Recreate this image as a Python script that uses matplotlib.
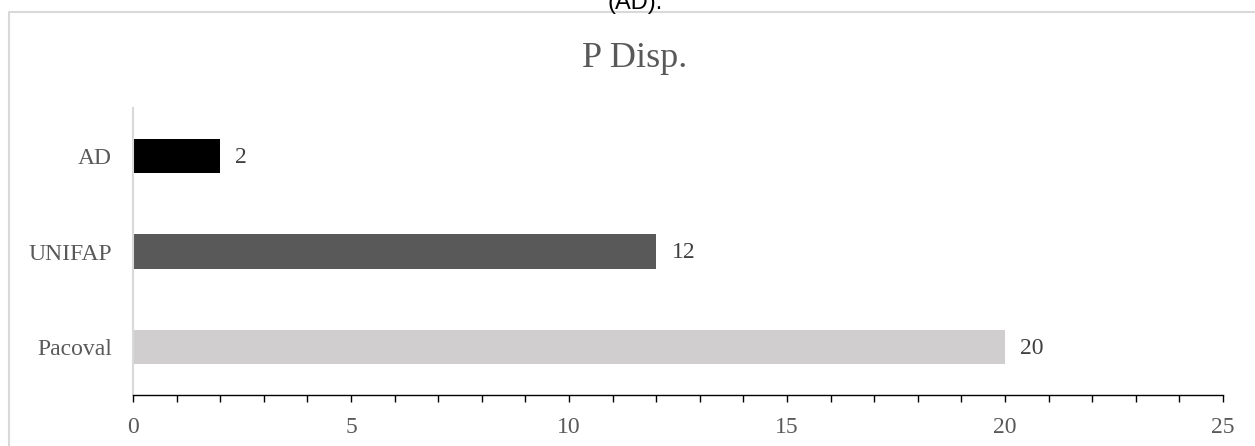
import matplotlib
matplotlib.use("Agg")
import matplotlib.pyplot as plt
from matplotlib.lines import Line2D

# dados do gráfico
locais = ["Pacoval", "UNIFAP", "AD"]
p_disp = [20, 12, 2]
cores = ["#D0CECE", "#595959", "#000000"]

plt.rcParams["font.family"] = "Liberation Serif"

fig = plt.figure(figsize=(12.55, 4.46), dpi=100)
ax = fig.add_axes([133 / 1255, 51 / 446, 1090 / 1255, 287 / 446])

barras = ax.barh(locais, p_disp, height=0.36, color=cores)

# rótulos de valor ao lado das barras
for b, v in zip(barras, p_disp):
    ax.annotate(str(v), (b.get_width(), b.get_y() + b.get_height() / 2),
                xytext=(11, -1), textcoords="offset points",
                va="center", ha="left", fontsize=17, color="#404040")

ax.set_xlim(0, 25)
ax.set_ylim(-0.5, 2.5)
ax.set_xticks(range(0, 26, 5))
ax.set_xticks(range(0, 26), minor=True)
ax.tick_params(axis="x", which="both", direction="out", length=5, width=1,
               color="black", labelsize=17, labelcolor="#595959", pad=11)
ax.tick_params(axis="y", length=0, labelsize=17, labelcolor="#595959", pad=15)

for s in ["top", "right"]:
    ax.spines[s].set_visible(False)
ax.spines["bottom"].set_color("black")
ax.spines["bottom"].set_linewidth(1)
ax.spines["left"].set_color("#D9D9D9")
ax.spines["left"].set_linewidth(1.5)

fig.text(635 / 1255, 1 - 67 / 446, "P Disp.", ha="center", va="baseline",
         fontsize=26, color="#595959")

# moldura da área do gráfico
fig.add_artist(Line2D([8.5 / 1255, 8.5 / 1255, 1.0], [0.0, 1 - 11.5 / 446, 1 - 11.5 / 446],
                      transform=fig.transFigure, color="#D9D9D9", linewidth=1.5))

# fim da legenda da figura
fig.text(635 / 1255, 1 - 8.5 / 446, "(AD).", ha="center", va="baseline",
         fontsize=17, color="black", family="Liberation Sans")

fig.savefig("out.png", dpi=100)
